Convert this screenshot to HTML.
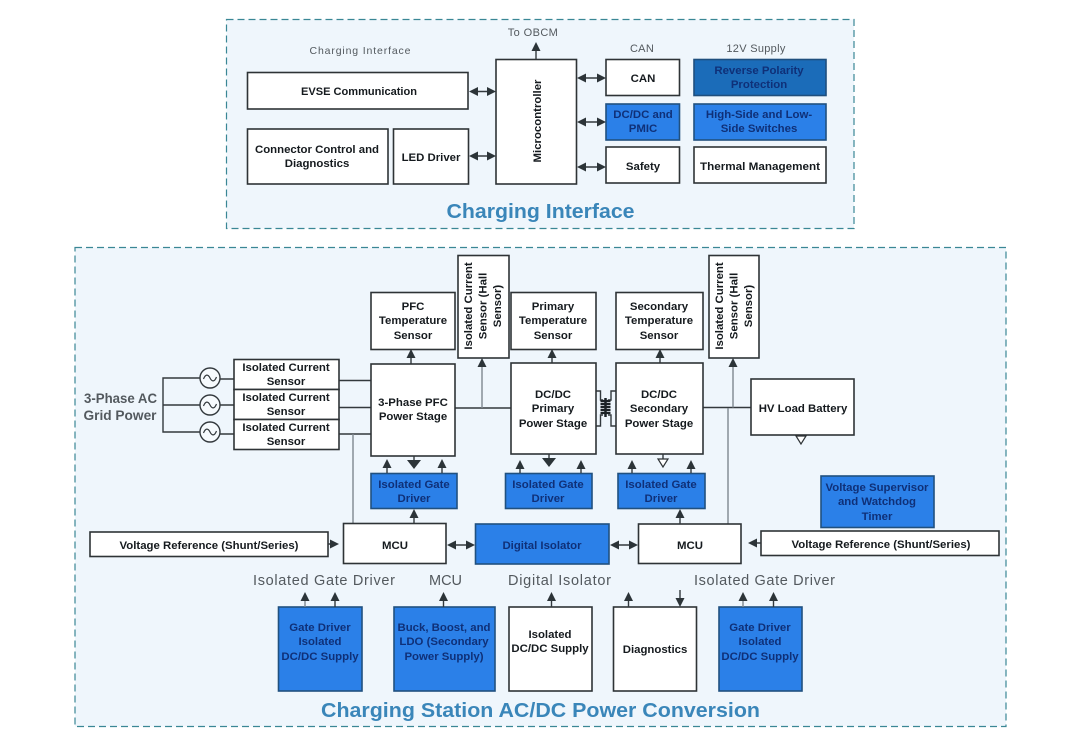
<!DOCTYPE html>
<html lang="en">
<head>
<meta charset="utf-8">
<title>Charging Station Block Diagram</title>
<style>
html,body{margin:0;padding:0;background:#fff;width:1075px;height:748px;overflow:hidden}
svg{display:block}
text{font-family:"Liberation Sans",sans-serif;text-anchor:middle}
.t{font-size:11.4px;font-weight:bold;fill:#151a1e}
.b{font-size:11.4px;font-weight:bold;fill:#0f3078}
.g{fill:#53595e}
.w{fill:#fff;stroke:#2e3336;stroke-width:1.6}
.bl{fill:#2b80e8;stroke:#20507f;stroke-width:1.6}
.l{stroke:#33393d;stroke-width:1.4;fill:none}
.lg{stroke:#7f8890;stroke-width:1.4;fill:none}
.a{fill:#2c3438}
.panel{fill:#eff6fc;stroke:#3a8795;stroke-width:1.2;stroke-dasharray:7 4}
.ti{font-size:20.5px;font-weight:bold;fill:#3a86b9}
.h{font-size:14.2px;font-weight:bold;stroke:none}
</style>
</head>
<body>
<svg width="1075" height="748" viewBox="0 0 1075 748" xmlns="http://www.w3.org/2000/svg">
<defs>
<path id="u" class="a" d="M0 0l-4.500 9h9z"/>
<path id="d" class="a" d="M0 0l-4.500-9h9z"/>
<path id="r" class="a" d="M0 0l-9-4.500v9z"/>
<path id="le" class="a" d="M0 0l9-4.500v9z"/>
<path id="bd" class="a" d="M0 9l-7-9h14z"/>
<path id="hd" d="M0 8l-5-8h10z" fill="#fff" stroke="#2e3336" stroke-width="1.2"/>
<g id="sine"><circle r="10" fill="#f6fafd" stroke="#33393d" stroke-width="1.4"/><path d="M-6.500 1c2-5 4.500-5 6.500-1s4.500 4 6.500-1" fill="none" stroke="#33393d" stroke-width="1.2"/></g>
</defs>

<rect class="panel" x="226.500" y="19.500" width="627.500" height="209"/>
<rect class="panel" x="75" y="247.500" width="931" height="479"/>

<!-- Top panel labels -->
<text x="360" y="54" font-size="10.500" class="g" textLength="101" lengthAdjust="spacing">Charging Interface</text>
<text x="533" y="36" font-size="11" class="g" letter-spacing=".4">To OBCM</text>
<text x="642" y="52" font-size="11" class="g" letter-spacing=".3">CAN</text>
<text x="756" y="52" font-size="11" class="g" letter-spacing=".3">12V Supply</text>
<text x="540.500" y="218" class="ti" textLength="188" lengthAdjust="spacingAndGlyphs">Charging Interface</text>

<!-- Top panel boxes -->
<rect class="w" x="247.500" y="72.500" width="220.500" height="36.500"/>
<rect class="w" x="247.500" y="129" width="140.500" height="55"/>
<rect class="w" x="393.500" y="129" width="75" height="55"/>
<rect class="w" x="496" y="59.500" width="80.500" height="124.500"/>
<rect class="w" x="606" y="59.500" width="73.500" height="36"/>
<rect class="bl" x="606" y="104" width="73.500" height="36"/>
<rect class="w" x="606" y="147" width="73.500" height="36"/>
<rect x="694" y="59.500" width="132" height="36" fill="#1b6cb9" stroke="#1f4f7e" stroke-width="1.600"/>
<rect class="bl" x="694" y="104" width="132" height="36"/>
<rect class="w" x="694" y="147" width="132" height="36"/>

<text class="t" x="359" y="95" textLength="116" lengthAdjust="spacingAndGlyphs">EVSE Communication</text>
<text class="t" x="317" y="153">Connector Control and</text>
<text class="t" x="317" y="167">Diagnostics</text>
<text class="t" x="431" y="161">LED Driver</text>
<text class="t" transform="translate(541 121) rotate(-90)">Microcontroller</text>
<text class="t" x="643" y="82">CAN</text>
<text class="b" x="643" y="118">DC/DC and</text>
<text class="b" x="643" y="132">PMIC</text>
<text class="t" x="643" y="170">Safety</text>
<text class="b" x="759" y="74">Reverse Polarity</text>
<text class="b" x="759" y="88">Protection</text>
<text class="b" x="759" y="118">High-Side and Low-</text>
<text class="b" x="759" y="132">Side Switches</text>
<text class="t" x="760" y="170" textLength="120" lengthAdjust="spacingAndGlyphs">Thermal Management</text>

<!-- Top arrows -->
<path class="l" d="M536 59V50M473 91.500H491M473 156H491M581 78H601M581 122H601M581 167H601"/>
<use href="#u" x="536" y="42"/>
<use href="#le" x="469" y="91.500"/><use href="#r" x="496" y="91.500"/>
<use href="#le" x="469" y="156"/><use href="#r" x="496" y="156"/>
<use href="#le" x="577" y="78"/><use href="#r" x="606" y="78"/>
<use href="#le" x="577" y="122"/><use href="#r" x="606" y="122"/>
<use href="#le" x="577" y="167"/><use href="#r" x="606" y="167"/>

<!-- Bottom wiring -->
<path class="l" d="M200 378H163V432H200M163 405H200M220 379H234M220 405H234M220 434H234M339 380.500H371M339 407.500H371M339 434H371"/>
<path class="l" d="M455 408H511M703 407.500H751"/>
<path class="lg" d="M353 434V523M482 408V366M733 407.500V366M728 408V524"/>
<path class="l" d="M411 364V356M552 363V357M660 363V357"/>
<use href="#sine" x="210" y="378"/><use href="#sine" x="210" y="405"/><use href="#sine" x="210" y="432"/>
<use href="#u" x="411" y="349"/><use href="#u" x="482" y="358"/><use href="#u" x="552" y="349"/><use href="#u" x="660" y="349"/><use href="#u" x="733" y="358"/>

<!-- Transformer -->
<path class="l" d="M596 391H600.500V400H603M616 391H611V400H608M596 426H600.500V415H603M616 426H611V415H608"/>
<path d="M600.500 401h10M600.500 404h10M600.500 407h10M600.500 410h10M600.500 413h10" stroke="#1c2226" stroke-width="2.200" fill="none"/>
<path d="M605.500 398V417" stroke="#1c2226" stroke-width="2.500"/>

<!-- Bottom boxes -->
<rect class="w" x="234" y="359.500" width="105" height="30"/>
<rect class="w" x="234" y="389.500" width="105" height="30"/>
<rect class="w" x="234" y="419.500" width="105" height="30"/>
<rect class="w" x="371" y="292.500" width="84" height="57"/>
<rect class="w" x="458" y="255.500" width="51" height="102.500"/>
<rect class="w" x="511" y="292.500" width="85" height="57"/>
<rect class="w" x="616" y="292.500" width="87" height="57"/>
<rect class="w" x="709" y="255.500" width="50" height="102.500"/>
<rect class="w" x="371" y="364" width="84" height="92"/>
<rect class="w" x="511" y="363" width="85" height="91"/>
<rect class="w" x="616" y="363" width="87" height="91"/>
<rect class="w" x="751" y="379" width="103" height="56"/>
<rect class="bl" x="371" y="473.500" width="86" height="35"/>
<rect class="bl" x="505.500" y="473.500" width="86.500" height="35"/>
<rect class="bl" x="618" y="473.500" width="87" height="35"/>
<rect class="bl" x="821" y="476" width="113" height="51.500"/>
<rect class="w" x="90" y="532" width="238" height="24.500"/>
<rect class="w" x="343.500" y="523.500" width="102.500" height="40"/>
<rect class="bl" x="475.500" y="524" width="133.500" height="40"/>
<rect class="w" x="638.500" y="524" width="102.500" height="39.500"/>
<rect class="w" x="761" y="531" width="238" height="24.500"/>
<rect class="bl" x="278.500" y="607" width="83.500" height="84"/>
<rect class="bl" x="394" y="607" width="101" height="84"/>
<rect class="w" x="509" y="607" width="83" height="84"/>
<rect class="w" x="613.500" y="607" width="83" height="84"/>
<rect class="bl" x="719" y="607" width="83" height="84"/>

<!-- Bottom text -->
<text class="g" x="120.500" y="403" font-size="13.500" font-weight="bold" textLength="73" lengthAdjust="spacingAndGlyphs">3-Phase AC</text>
<text class="g" x="120" y="420" font-size="13.500" font-weight="bold" textLength="73" lengthAdjust="spacingAndGlyphs">Grid Power</text>
<text class="t" x="286" y="371">Isolated Current</text><text class="t" x="286" y="385">Sensor</text>
<text class="t" x="286" y="401">Isolated Current</text><text class="t" x="286" y="415">Sensor</text>
<text class="t" x="286" y="431">Isolated Current</text><text class="t" x="286" y="445">Sensor</text>
<text class="t" x="413" y="310">PFC</text><text class="t" x="413" y="324">Temperature</text><text class="t" x="413" y="339">Sensor</text>
<text class="t" x="553" y="310">Primary</text><text class="t" x="553" y="324">Temperature</text><text class="t" x="553" y="339">Sensor</text>
<text class="t" x="659" y="310">Secondary</text><text class="t" x="659" y="324">Temperature</text><text class="t" x="659" y="339">Sensor</text>
<text class="t" transform="translate(472 306) rotate(-90)">Isolated Current</text>
<text class="t" transform="translate(486.500 306) rotate(-90)">Sensor (Hall</text>
<text class="t" transform="translate(501 306) rotate(-90)">Sensor)</text>
<text class="t" transform="translate(723 306) rotate(-90)">Isolated Current</text>
<text class="t" transform="translate(737.500 306) rotate(-90)">Sensor (Hall</text>
<text class="t" transform="translate(752 306) rotate(-90)">Sensor)</text>
<text class="t" x="413" y="406">3-Phase PFC</text><text class="t" x="413" y="420">Power Stage</text>
<text class="t" x="553" y="398">DC/DC</text><text class="t" x="553" y="412">Primary</text><text class="t" x="553" y="427">Power Stage</text>
<text class="t" x="659" y="398">DC/DC</text><text class="t" x="659" y="412">Secondary</text><text class="t" x="659" y="427">Power Stage</text>
<text class="t" x="803" y="412">HV Load Battery</text>
<text class="b" x="414" y="488">Isolated Gate</text><text class="b" x="414" y="502">Driver</text>
<text class="b" x="548" y="488">Isolated Gate</text><text class="b" x="548" y="502">Driver</text>
<text class="b" x="661" y="488">Isolated Gate</text><text class="b" x="661" y="502">Driver</text>
<text class="b" x="877" y="491">Voltage Supervisor</text><text class="b" x="877" y="505">and Watchdog</text><text class="b" x="877" y="520">Timer</text>
<text class="t" x="209" y="549">Voltage Reference (Shunt/Series)</text>
<text class="t" x="395" y="549">MCU</text>
<text class="b" x="542" y="549">Digital Isolator</text>
<text class="t" x="690" y="549">MCU</text>
<text class="t" x="881" y="548">Voltage Reference (Shunt/Series)</text>
<text class="g" x="324" y="585" font-size="14.500" textLength="142" lengthAdjust="spacing">Isolated Gate Driver</text>
<text class="g" x="445.500" y="585" font-size="14.500" textLength="33" lengthAdjust="spacing">MCU</text>
<text class="g" x="559.500" y="585" font-size="14.500" textLength="103" lengthAdjust="spacing">Digital Isolator</text>
<text class="g" x="764.500" y="585" font-size="14.500" textLength="141" lengthAdjust="spacing">Isolated Gate Driver</text>
<text class="b" x="320" y="631" font-size="10.800">Gate Driver</text><text class="b" x="320" y="645" font-size="10.800">Isolated</text><text class="b" x="320" y="660" font-size="10.800">DC/DC Supply</text>
<text class="b" x="444" y="631" font-size="10.800">Buck, Boost, and</text><text class="b" x="444" y="645" font-size="10.800">LDO (Secondary</text><text class="b" x="444" y="660" font-size="10.800">Power Supply)</text>
<text class="t" x="550" y="638" font-size="10.800">Isolated</text><text class="t" x="550" y="652" font-size="10.800">DC/DC Supply</text>
<text class="t" x="655" y="653" font-size="10.800">Diagnostics</text>
<text class="b" x="760" y="631" font-size="10.800">Gate Driver</text><text class="b" x="760" y="645" font-size="10.800">Isolated</text><text class="b" x="760" y="660" font-size="10.800">DC/DC Supply</text>
<text class="ti" x="540.500" y="717" textLength="439" lengthAdjust="spacingAndGlyphs">Charging Station AC/DC Power Conversion</text>

<!-- Bottom arrows -->
<path class="l" d="M387 468V473M442 468V473M414 456V461M414 517V523M520 468V473M581 468V473M549 454V458M632 468V473M691 468V473M663 454V459M680 517V524M328 544H331M756 543H761M451 545H471M614 545H634M335 600V607M443.500 600V607M551.500 600V607M628.500 600V607M680 590V600M773.500 600V607"/>
<path class="lg" d="M305 600V607M743 600V607"/>
<use href="#u" x="387" y="459"/><use href="#u" x="442" y="459"/><use href="#bd" x="414" y="460"/>
<use href="#u" x="520" y="460"/><use href="#u" x="581" y="460"/><use href="#bd" x="549" y="458"/>
<use href="#u" x="632" y="460"/><use href="#u" x="691" y="460"/><use href="#hd" x="663" y="459"/>
<use href="#hd" x="801" y="436"/>
<use href="#u" x="414" y="509"/><use href="#u" x="680" y="509"/>
<use href="#r" x="339" y="544"/><use href="#le" x="748" y="543"/>
<use href="#le" x="447" y="545"/><use href="#r" x="475" y="545"/>
<use href="#le" x="610" y="545"/><use href="#r" x="638" y="545"/>
<use href="#u" x="305" y="592"/><use href="#u" x="335" y="592"/><use href="#u" x="443.500" y="592"/><use href="#u" x="551.500" y="592"/><use href="#u" x="628.500" y="592"/>
<use href="#d" x="680" y="607"/><use href="#u" x="743" y="592"/><use href="#u" x="773.500" y="592"/>
</svg>
</body>
</html>
